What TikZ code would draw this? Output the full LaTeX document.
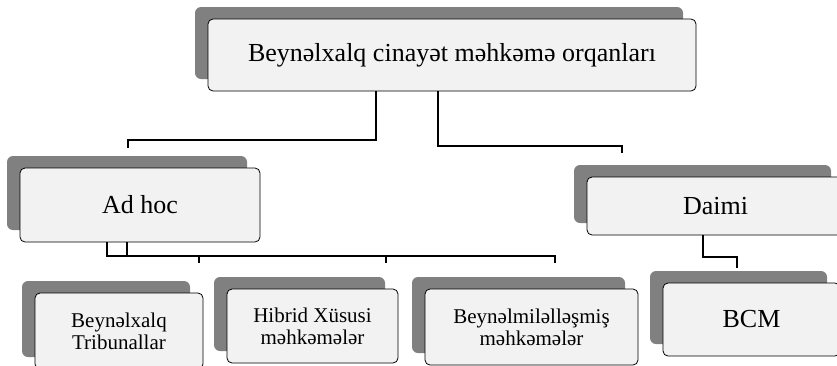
\documentclass[tikz,border=0pt]{standalone}
\usepackage{fontspec}
\setmainfont{Liberation Serif}
\newcommand{\bigText}{\fontsize{26}{28}\selectfont}
\newcommand{\smallText}{\fontsize{21}{22}\selectfont}
\begin{document}
\begin{tikzpicture}
[x=1pt,y=-1pt,
  shadowDecorate/.style={fill=black!50,rounded corners=6pt,inner sep=0pt},
  boxDecorate/.style={draw=black,line width=0.8pt,rounded corners=5pt,
    fill=black!5,inner sep=0pt,align=center},
  lineDecorate/.style={-,line width=2pt,black}]
\useasboundingbox (0,0) rectangle (837,365);
\clip (0,0) rectangle (837,365);
%% shadows and boxes
\foreach \nodename/\x/\y/\w/\h/\size/\txt in {
  top/452/55/488/72/\bigText/{Beynəlxalq cinayət məhkəmə orqanları},
  adhoc/140/205/240/74/\bigText/{Ad hoc},
  daimi/715.5/206/257/58/\bigText/{Daimi},
  trib/119/331/168/76/\smallText/{Beynəlxalq\\Tribunallar},
  hibrid/312.5/326/171/74/\smallText/{Hibrid Xüsusi\\məhkəmələr},
  intl/531.5/327/213/76/\smallText/{Beynəlmiləlləşmiş\\məhkəmələr},
  bcm/751.5/319.5/177/73/\bigText/{BCM}}
{
  \node (\nodename S) at ({\x-13},{\y-12}) [shadowDecorate,
    minimum width=\w,minimum height=\h] {};
  \node (\nodename) at (\x,\y) [boxDecorate,font=\size,
    minimum width=\w,minimum height=\h] {\txt};
}
%% connectors
\coordinate (adhocIn) at (128,148);
\coordinate (daimiIn) at (622,153);
\coordinate (tribIn) at (199,263);
\coordinate (hibridIn) at (386,263);
\coordinate (intlIn) at (555,263);
\coordinate (bcmIn) at (737,268);
\draw[lineDecorate] ([xshift=-76]top.south) |- ([yshift=8]adhocIn) -- (adhocIn);
\draw[lineDecorate] ([xshift=-14]top.south) |- ([yshift=7]daimiIn) -- (daimiIn);
\draw[lineDecorate] ([xshift=-33]adhoc.south) |- ([yshift=7]tribIn) -- (tribIn);
\draw[lineDecorate] ([xshift=-13]adhoc.south) |- ([yshift=7]hibridIn) -- (hibridIn);
\draw[lineDecorate] ([xshift=-13]adhoc.south) |- ([yshift=7]intlIn) -- (intlIn);
\draw[lineDecorate] ([xshift=-12.5]daimi.south) |- ([yshift=11]bcmIn) -- (bcmIn);
\end{tikzpicture}
\end{document}
